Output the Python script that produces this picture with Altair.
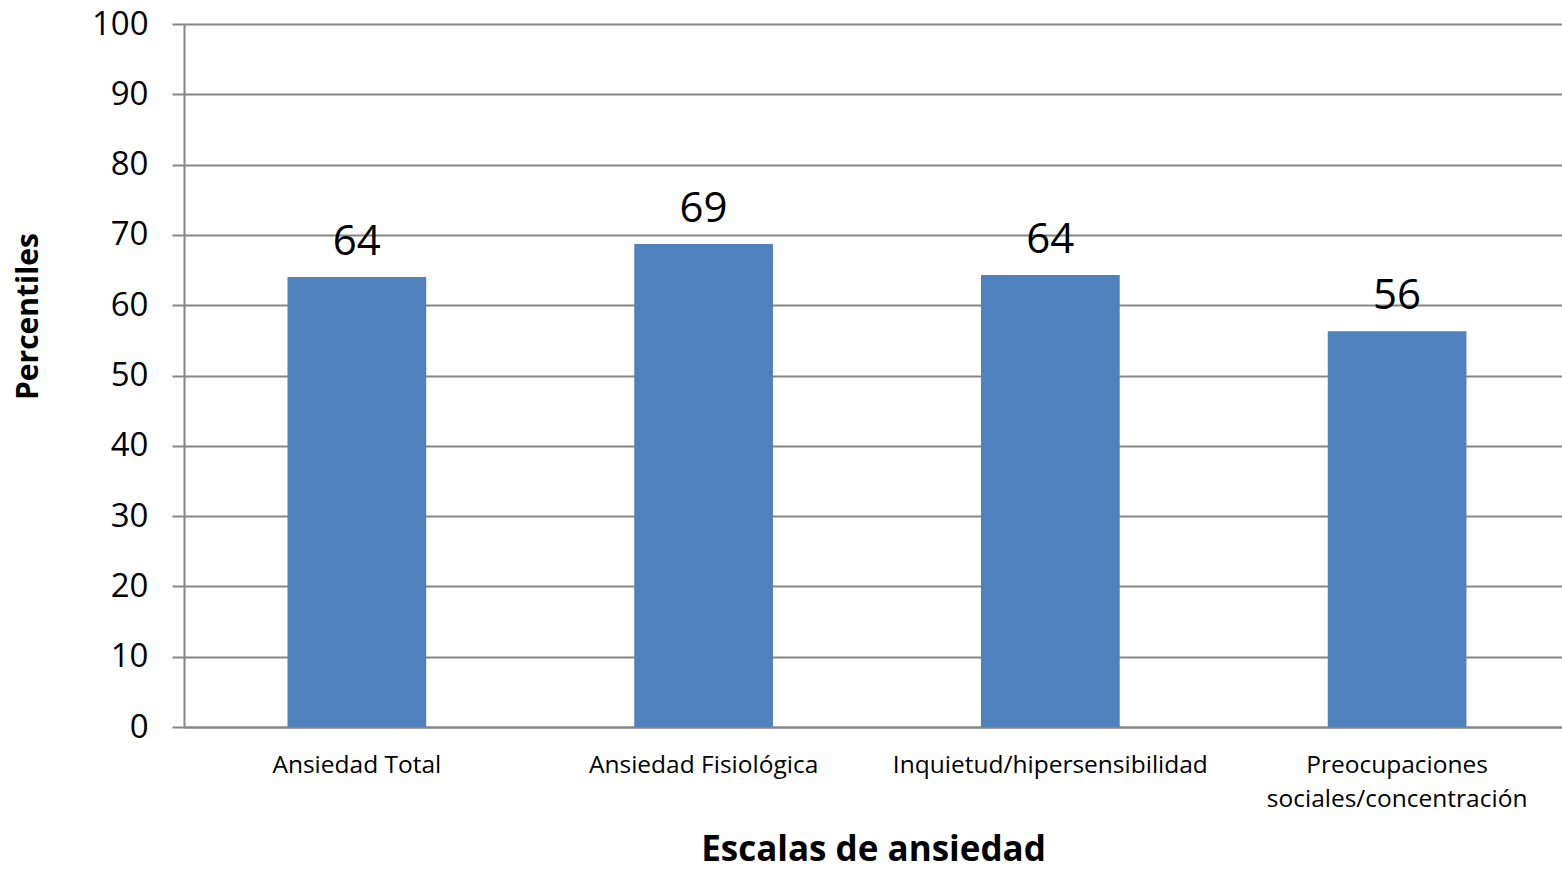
import altair as alt
import pandas as pd

categories = ["Ansiedad Total", "Ansiedad Fisiológica", "Inquietud/hipersensibilidad",
              "Preocupaciones sociales/concentración"]
values = [64.0, 68.7, 64.3, 56.3]
value_labels = ["64", "69", "64", "56"]

df = pd.DataFrame({"cat": categories, "val": values, "lab": value_labels})

FONT = "Open Sans"
GRID = "#868686"

label_expr = ("datum.value == 'Preocupaciones sociales/concentración' ? "
              "['Preocupaciones', 'sociales/concentración'] : datum.value")

x = alt.X("cat:N", sort=categories, title="Escalas de ansiedad",
          scale=alt.Scale(paddingInner=0.6, paddingOuter=0.287, align=0.52),
          axis=alt.Axis(labelAngle=0, labelFont=FONT, labelFontSize=24.5, labelColor="black",
                        labelPadding=26, labelLineHeight=34, labelExpr=label_expr,
                        ticks=False, domain=True, domainColor=GRID, domainWidth=2,
                        titleFont=FONT, titleFontSize=35, titleFontWeight="bold",
                        titleColor="black", titlePadding=22, labelLimit=400))
y = alt.Y("val:Q", title="Percentiles",
          scale=alt.Scale(domain=[0, 100], nice=False),
          axis=alt.Axis(values=list(range(0, 101, 10)), labelFont=FONT, labelFontSize=33,
                        labelColor="black", labelPadding=24, tickSize=12, tickColor=GRID,
                        tickWidth=2, domainColor=GRID, domainWidth=2, grid=True,
                        gridColor=GRID, gridWidth=2, titleFont=FONT, titleFontSize=30,
                        titleFontWeight="bold", titleColor="black", titleAngle=-90,
                        titleX=-156, titleY=292, titleAlign="center", titleBaseline="middle"))

bars = alt.Chart(df).mark_bar(color="#4F81BD").encode(x=x, y=y)
text = alt.Chart(df).mark_text(font=FONT, fontSize=42, color="black", baseline="alphabetic",
                               dy=-22).encode(x=alt.X("cat:N", sort=categories), y="val:Q",
                                              text="lab:N")

chart = (bars + text).properties(
    width=1378, height=703,
    autosize=alt.AutoSizeParams(type="none"),
    padding={"left": 184, "top": 24, "right": 0, "bottom": 143},
    background="white",
).configure_view(stroke=None)

chart.save("out.html", embed_options={"renderer": "svg", "actions": False})
